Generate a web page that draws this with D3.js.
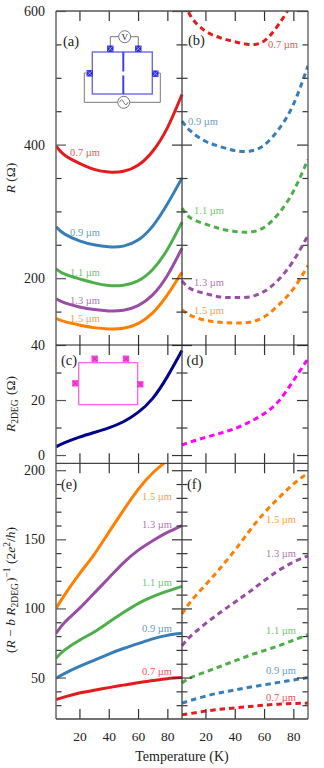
<!DOCTYPE html>
<html>
<head>
<meta charset="utf-8">
<script src="https://d3js.org/d3.v7.min.js"></script>
<style>
  body { margin: 0; background: #fff; }
  text { font-family: "Liberation Serif", serif; fill: #222; }
  .tick text { font-size: 14px; }
</style>
</head>
<body>
<div id="chart"></div>
<script>
// Temperature grid that every curve was read on.
const temps = [4, 10, 20, 30, 40, 50, 60, 70, 80, 90];
const widths = ["0.7 µm", "0.9 µm", "1.1 µm", "1.3 µm", "1.5 µm"];

// (a) R, solid
const rA07 = [398, 384, 372, 363, 359, 360, 369, 390, 425, 475];
const rA09 = [277, 266, 256, 250, 247, 248, 257, 278, 311, 350];
const rA11 = [214, 206, 199, 193, 189, 189.5, 196, 213, 243, 284];
const rA13 = [169, 163, 157, 153, 151, 152, 159, 175, 204, 245];
const rA15 = [140, 135, 130, 126, 124, 125, 132, 148, 175, 209];

// (b) R, dashed
const rB07 = [625, 592, 570, 560, 554, 550, 555, 580, 618, 680];
const rB09 = [435, 420, 405, 397, 391, 390, 399, 423, 460, 518];
const rB11 = [305, 290, 281, 274, 270, 269, 276, 297, 330, 378];
const rB13 = [196, 184, 177, 172, 171, 172, 180, 198, 226, 264];
const rB15 = [153, 144, 137, 134, 133, 134, 142, 160, 184, 219];

// (c) (d) R_2DEG
const r2degC = [3, 4.5, 6.5, 8.2, 9.9, 12.1, 15.5, 20.6, 28.5, 38];
const r2degD = [3.6, 4.8, 6.4, 7.9, 9.6, 12, 15, 19.6, 27, 35];

// (e) inverse resistance, solid
const gE07 = [34, 36, 38.8, 40.8, 42.7, 44.5, 46.3, 47.8, 49.2, 50];
const gE09 = [49.5, 53, 58, 62.5, 67, 71, 74.5, 78, 80.5, 82];
const gE11 = [64, 70, 77, 83, 90, 97, 103.5, 108.5, 112.5, 116];
const gE13 = [82, 90, 100, 111, 122, 133, 142, 149, 155, 160];
const gE15 = [100, 110, 125, 139, 155, 171, 186, 198, 207, 216];

// (f) inverse resistance, dashed
const gF07 = [23, 24, 25.7, 27, 28, 29, 30, 30.7, 31.2, 31.5];
const gF09 = [31.5, 33.5, 36.5, 39, 41, 43, 44.7, 46.5, 48.2, 50];
const gF11 = [46, 50, 54, 58, 62, 66, 69.5, 73, 77, 81];
const gF13 = [73, 80, 89, 97, 104.5, 112, 120, 127.5, 133.5, 138];
const gF15 = [96, 105, 117, 129, 142, 156, 169, 180, 190, 198];

const xTicks = [20, 40, 60, 80];
const rMajor = [200, 400, 600];
const rMinor = [150, 250, 300, 350, 450, 500, 550];
const r2Major = [0, 20, 40];
const r2Minor = [10, 30];
const gMajor = [50, 100, 150, 200];
const gMinor = [30, 40, 60, 70, 80, 90, 110, 120, 130, 140, 160, 170, 180, 190];

const colors = ["#e41a1c", "#377eb8", "#4daf4a", "#984ea3", "#ff7f00"];

const width = 324, height = 768;
const leftX = 56, midX = 182, rightX = 308;

const svg = d3.select("#chart").append("svg")
  .attr("width", width)
  .attr("height", height);

const xLeft = d3.scaleLinear().domain([4, 90]).range([leftX, midX]);
const xRight = d3.scaleLinear().domain([4, 90]).range([midX, rightX]);

const yR = d3.scaleLinear().domain([100, 600]).range([345, 11]);
const y2 = d3.scaleLinear().domain([-3, 40]).range([463.3, 345]);
const yG = d3.scaleLinear().domain([20, 205]).range([719, 463.3]);

// One clip per row so the curves stop at the frame.
function addClip(id, y) {
  svg.append("clipPath").attr("id", id).append("rect")
    .attr("x", leftX).attr("width", rightX - leftX)
    .attr("y", y.range()[1]).attr("height", y.range()[0] - y.range()[1]);
}
addClip("clip-r", yR);
addClip("clip-2", y2);
addClip("clip-g", yG);

function drawCurve(values, x, y, clipId, color, dashed) {
  const line = d3.line()
    .x((d, i) => x(temps[i]))
    .y(d => y(d))
    .curve(d3.curveNatural);
  svg.append("g").attr("clip-path", "url(#" + clipId + ")")
    .append("path")
    .attr("d", line(values))
    .attr("fill", "none")
    .attr("stroke", color)
    .attr("stroke-width", 3)
    .attr("stroke-dasharray", dashed ? "5.5,4" : null);
}

[rA07, rA09, rA11, rA13, rA15].forEach((v, i) => drawCurve(v, xLeft, yR, "clip-r", colors[i], false));
[rB07, rB09, rB11, rB13, rB15].forEach((v, i) => drawCurve(v, xRight, yR, "clip-r", colors[i], true));
drawCurve(r2degC, xLeft, y2, "clip-2", "#00008b", false);
drawCurve(r2degD, xRight, y2, "clip-2", "#ff00ff", true);
[gE07, gE09, gE11, gE13, gE15].forEach((v, i) => drawCurve(v, xLeft, yG, "clip-g", colors[i], false));
[gF07, gF09, gF11, gF13, gF15].forEach((v, i) => drawCurve(v, xRight, yG, "clip-g", colors[i], true));

// Frame and ticks
const axisColor = "#333";

function cleanAxis(g) {
  g.select(".domain").remove();
  g.selectAll("line").attr("stroke", axisColor).attr("stroke-width", 1.2);
}

function yAxes(y, major, minor) {
  const left = d3.axisLeft(y).tickValues(major).tickSize(-10).tickPadding(11)
    .tickFormat(d3.format("d"));
  svg.append("g").attr("transform", "translate(" + leftX + ",0)").call(left).call(cleanAxis)
    .selectAll("line").attr("stroke", "#555");
  svg.append("g").attr("transform", "translate(" + leftX + ",0)")
    .call(d3.axisLeft(y).tickValues(minor).tickSize(-5.5).tickFormat("")).call(cleanAxis);

  svg.append("g").attr("transform", "translate(" + midX + ",0)")
    .call(d3.axisLeft(y).tickValues(major).tickSize(10).tickFormat("")).call(cleanAxis);
  svg.append("g").attr("transform", "translate(" + midX + ",0)")
    .call(d3.axisRight(y).tickValues(major).tickSize(10).tickFormat("")).call(cleanAxis);
  svg.append("g").attr("transform", "translate(" + midX + ",0)")
    .call(d3.axisLeft(y).tickValues(minor).tickSize(5.5).tickFormat("")).call(cleanAxis);
  svg.append("g").attr("transform", "translate(" + midX + ",0)")
    .call(d3.axisRight(y).tickValues(minor).tickSize(5.5).tickFormat("")).call(cleanAxis);

  svg.append("g").attr("transform", "translate(" + rightX + ",0)")
    .call(d3.axisRight(y).tickValues(major).tickSize(-11).tickFormat("")).call(cleanAxis);
  svg.append("g").attr("transform", "translate(" + rightX + ",0)")
    .call(d3.axisRight(y).tickValues(minor).tickSize(-5.5).tickFormat("")).call(cleanAxis);
}

yAxes(yR, rMajor, rMinor);
yAxes(y2, r2Major, r2Minor);
yAxes(yG, gMajor, gMinor);

// x ticks on the four horizontal rules
[[11, false], [345, true], [463.3, true], [719, false]].forEach(([py, both]) => {
  [xLeft, xRight].forEach(x => {
    svg.append("g").attr("transform", "translate(0," + py + ")")
      .call(d3.axisTop(x).tickValues(xTicks).tickSize(py === 11 ? -10 : 10).tickFormat("")).call(cleanAxis);
    if (both) {
      svg.append("g").attr("transform", "translate(0," + py + ")")
        .call(d3.axisBottom(x).tickValues(xTicks).tickSize(10).tickFormat("")).call(cleanAxis);
    }
  });
});

// x tick labels
[xLeft, xRight].forEach(x => {
  const g = svg.append("g").attr("transform", "translate(0,719)")
    .call(d3.axisBottom(x).tickValues(xTicks).tickSize(0).tickPadding(12).tickFormat(d3.format("d")));
  g.select(".domain").remove();
  g.selectAll("text").style("font-size", "13.5px");
});

// Frame lines
[[leftX, 11, leftX, 719, "#666", 1.5], [midX, 11, midX, 719, "#444", 1.3], [rightX, 11, rightX, 719, "#555", 1.3],
 [leftX, 11, rightX, 11, "#555", 1.5], [leftX, 345, rightX, 345, "#222", 1.2],
 [leftX, 463.3, rightX, 463.3, "#444", 1.2], [leftX, 719, rightX, 719, "#444", 1.5]].forEach(l => {
  svg.append("line").attr("x1", l[0]).attr("y1", l[1]).attr("x2", l[2]).attr("y2", l[3])
    .attr("stroke", l[4]).attr("stroke-width", l[5]);
});

// Panel letters
[["(a)", 63, 46], ["(b)", 188, 45], ["(c)", 61, 365], ["(d)", 186.5, 365], ["(e)", 61, 489], ["(f)", 187, 489]].forEach(p => {
  svg.append("text").attr("x", p[1]).attr("y", p[2]).style("font-size", "14.5px").text(p[0]);
});

// Curve labels
function curveLabels(x, ys) {
  ys.forEach((y, i) => {
    const px = Array.isArray(x) ? x[i] : x;
    svg.append("text").attr("x", px).attr("y", y + 3.5)
      .attr("fill-opacity", 0.8)
      .style("fill", colors[i]).style("font-size", "10.5px").text(widths[i]);
  });
}
curveLabels(70, [152, 232.7, 272.7, 300, 318.7]);
curveLabels([268, 188, 194, 194, 194], [44.7, 121.7, 210, 282.7, 310]);
curveLabels(142, [671, 628.3, 582.7, 524, 496.7]);
curveLabels(266, [697, 670, 630, 553, 519]);

// Axis titles
function yTitle(cy, build) {
  const t = svg.append("text")
    .attr("transform", "translate(15," + cy + ") rotate(-90)")
    .attr("text-anchor", "middle")
    .style("font-size", "13.5px");
  build(t);
}
const italic = (t, s) => t.append("tspan").style("font-style", "italic").text(s);
const sub = (t, s) => {
  t.append("tspan").attr("dy", 3).style("font-size", "9.5px").text(s);
  t.append("tspan").attr("dy", -3).text("\u200a");
};

yTitle(178, t => {
  italic(t, "R");
  t.append("tspan").text(" (Ω)");
});
yTitle(404, t => {
  italic(t, "R");
  sub(t, "2DEG");
  t.append("tspan").text(" (Ω)");
});
yTitle(590, t => {
  t.append("tspan").text("(");
  italic(t, "R");
  t.append("tspan").text(" − ");
  italic(t, "b R");
  sub(t, "2DEG");
  t.append("tspan").text(")");
  t.append("tspan").attr("dy", -5).style("font-size", "9.5px").text("−1");
  t.append("tspan").attr("dy", 5).text(" (2");
  italic(t, "e");
  t.append("tspan").attr("dy", -5).style("font-size", "9.5px").text("2");
  t.append("tspan").attr("dy", 5).text("/");
  italic(t, "h");
  t.append("tspan").text(")");
});
svg.append("text").attr("x", 182).attr("y", 761).attr("text-anchor", "middle")
  .style("font-size", "14px").text("Temperature (K)");

// Device sketches
function contact(g, cx, cy, fill, line) {
  g.append("rect").attr("x", cx - 3.2).attr("y", cy - 3.2).attr("width", 6.4).attr("height", 6.4).attr("fill", fill);
  g.append("path").attr("d", `M${cx - 2.5} ${cy - 2.5}L${cx + 2.5} ${cy + 2.5}M${cx - 2.5} ${cy + 2.5}L${cx + 2.5} ${cy - 2.5}`)
    .attr("stroke", line).attr("stroke-width", 0.7);
}

const insetA = svg.append("g");
insetA.append("path")
  .attr("d", "M110.3 48V36.7H118.7M130.7 36.7H138.3V48M86 73H84.3V102.3H117.7M129.7 102.3H160.3V73H158")
  .attr("fill", "none").attr("stroke", "#777").attr("stroke-width", 1);
insetA.append("circle").attr("cx", 124.7).attr("cy", 36.7).attr("r", 6)
  .attr("fill", "#fff").attr("stroke", "#777");
insetA.append("text").attr("x", 124.7).attr("y", 40).attr("text-anchor", "middle")
  .style("font-size", "9px").text("V");
insetA.append("circle").attr("cx", 123.7).attr("cy", 102.3).attr("r", 6)
  .attr("fill", "#fff").attr("stroke", "#777");
insetA.append("path").attr("d", "M119.5 102.3Q121.5 97.5 123.7 102.3T128 102.3")
  .attr("fill", "none").attr("stroke", "#777");
insetA.append("rect").attr("x", 92.3).attr("y", 52).attr("width", 60).attr("height", 42)
  .attr("fill", "#fff").attr("stroke", "#6a6ae8").attr("stroke-width", 1.4);
insetA.append("path").attr("d", "M123.3 52V71.5M123.3 75.5V94")
  .attr("stroke", "#4040e0").attr("stroke-width", 2);
[[110.3, 48.7], [138.3, 48.7], [89.7, 73.3], [155.3, 73.7]].forEach(c => contact(insetA, c[0], c[1], "#2a2af0", "#bbc"));

const insetC = svg.append("g");
insetC.append("rect").attr("x", 78.7).attr("y", 362.7).attr("width", 59).attr("height", 42)
  .attr("fill", "#fff").attr("stroke", "#ff55ee").attr("stroke-width", 1.2);
[[94.7, 358.7], [126, 358.7], [75.3, 383.3], [140.3, 384.3]].forEach(c => contact(insetC, c[0], c[1], "#ff44e0", "#a03090"));
</script>
</body>
</html>
